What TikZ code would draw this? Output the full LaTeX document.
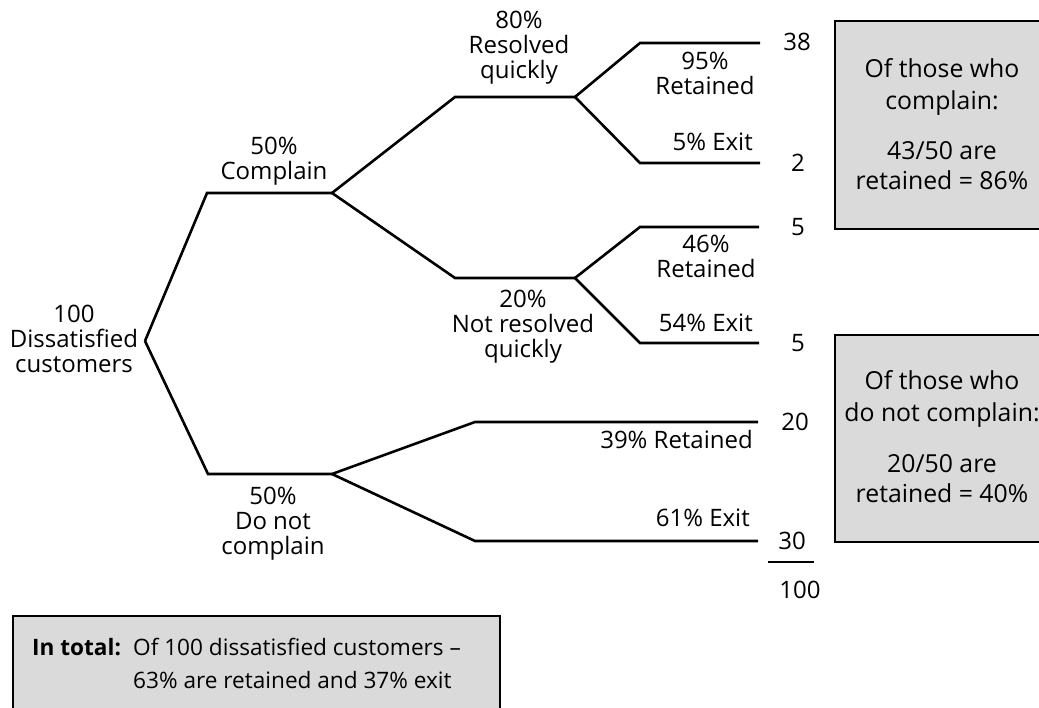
\documentclass[tikz,border=0pt]{standalone}
\usepackage{fontspec}
\setmainfont{Open Sans}
\definecolor{boxgray}{RGB}{218,218,218}
\begin{document}
\begin{tikzpicture}[x=1pt,y=-1pt,
  branch/.style={line width=2.6pt, line join=miter},
  lbl/.style={font=\fontsize{24}{25}\selectfont, align=center, inner sep=0pt},
  blbl/.style={font=\fontsize{24.8}{31}\selectfont, inner sep=0pt, anchor=base},
  tlbl/.style={font=\fontsize{22.6}{25}\selectfont, inner sep=0pt, anchor=base west},
  infobox/.style={draw, line width=2.6pt, fill=boxgray},
]
\useasboundingbox (0,0) rectangle (1039,708);
\clip (0,0) rectangle (1039,708);
% junction points
\coordinate (root) at (145,341);
\coordinate (c1) at (207,193);
\coordinate (c2) at (332,193);
\coordinate (n1) at (208,474);
\coordinate (n2) at (332,474);
\coordinate (q1) at (455,97);
\coordinate (q2) at (575,97);
\coordinate (s1) at (455,278);
\coordinate (s2) at (575,278);
\coordinate (a1) at (640,43);
\coordinate (a2) at (760,43);
\coordinate (b1) at (640,163);
\coordinate (b2) at (760,163);
\coordinate (d1) at (640,227);
\coordinate (d2) at (759,227);
\coordinate (e1) at (640,343);
\coordinate (e2) at (759,343);
\coordinate (f1) at (475,422);
\coordinate (f2) at (758,422);
\coordinate (g1) at (475,541);
\coordinate (g2) at (758,541);
% tree
\draw[branch] (root) -- (c1) -- (c2);
\draw[branch] (root) -- (n1) -- (n2);
\draw[branch] (c2) -- (q1) -- (q2);
\draw[branch] (c2) -- (s1) -- (s2);
\draw[branch] (q2) -- (a1) -- (a2);
\draw[branch] (q2) -- (b1) -- (b2);
\draw[branch] (s2) -- (d1) -- (d2);
\draw[branch] (s2) -- (e1) -- (e2);
\draw[branch] (n2) -- (f1) -- (f2);
\draw[branch] (n2) -- (g1) -- (g2);
% labels
\node[lbl] (lroot) at (74,339) {100\\Dissatisfied\\customers};
\node[lbl] (lcomp) at (274,161) {50\%\\Complain};
\node[lbl] (lres) at (519,48) {80\%\\Resolved\\quickly};
\node[lbl] (lnres) at (523,327) {20\%\\Not resolved\\quickly};
\node[lbl] (ldnc) at (273,524) {50\%\\Do not\\complain};
\node[lbl] (lr95) at (705,73) {95\%\\Retained};
\node[lbl, anchor=east] (le5) at (753,142) {5\% Exit};
\node[lbl] (lr46) at (706,256) {46\%\\Retained};
\node[lbl, anchor=east] (le54) at (753,323) {54\% Exit};
\node[lbl, anchor=east] (lr39) at (753,440) {39\% Retained};
\node[lbl, anchor=east] (le61) at (750,518) {61\% Exit};
% numbers
\node[lbl] (v38) at (797,42) {38};
\node[lbl] (v2) at (798,163) {2};
\node[lbl] (v5a) at (798,227) {5};
\node[lbl] (v5b) at (798,343) {5};
\node[lbl] (v20) at (795,422) {20};
\node[lbl] (v30) at (792,541) {30};
\coordinate (sumL) at (768,562);
\coordinate (sumR) at (814,562);
\draw[line width=2pt] (sumL) -- (sumR);
\node[lbl] (v100) at (800,590) {100};
% boxes
\draw[infobox] (835,21) rectangle (1050,229);
\node[blbl] (bx1a) at (942,78) {Of those who};
\node[blbl] (bx1b) at (942,110) {complain:};
\node[blbl] (bx1c) at (942,160) {43/50 are};
\node[blbl] (bx1d) at (942,190) {retained = 86\%};
\draw[infobox] (835,335) rectangle (1050,542);
\node[blbl] (bx2a) at (942,390) {Of those who};
\node[blbl] (bx2b) at (942,422) {do not complain:};
\node[blbl] (bx2c) at (942,472) {20/50 are};
\node[blbl] (bx2d) at (942,502) {retained = 40\%};
\draw[infobox] (13,616) rectangle (500,730);
\node[tlbl] (tot) at (32,655) {\bfseries In total:};
\node[tlbl] (tot1) at (133,655) {Of 100 dissatisfied customers --};
\node[tlbl] (tot2) at (133,688) {63\% are retained and 37\% exit};
\end{tikzpicture}
\end{document}
